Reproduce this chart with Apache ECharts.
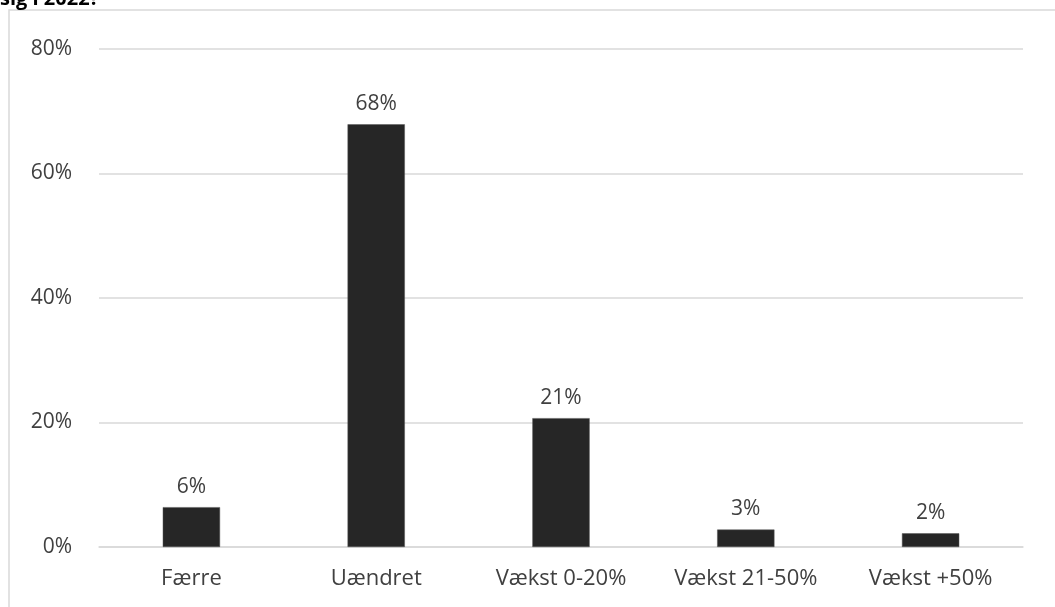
<!DOCTYPE html>
<html>
<head>
<meta charset="utf-8">
<script src="https://cdn.jsdelivr.net/npm/echarts@6/dist/echarts.min.js"></script>
<style>html,body{margin:0;padding:0;background:#fff;}#c{width:1055px;height:607px;}</style>
</head>
<body>
<div id="c"></div>
<script>
const categories = ['Færre', 'Uændret', 'Vækst 0-20%', 'Vækst 21-50%', 'Vækst +50%'];
const values = [6.4, 67.9, 20.7, 2.8, 2.2];
const valueLabels = ['6%', '68%', '21%', '3%', '2%'];
const titleText = 'sig i 2022?';

const FONT = '"Open Sans", "Noto Sans", sans-serif';
const chart = echarts.init(document.getElementById('c'));
chart.setOption({
  animation: false,
  backgroundColor: '#fff',
  graphic: [
    { type: 'rect', shape: { x: 9, y: 10, width: 1200, height: 800 }, style: { fill: 'none', stroke: '#d9d9d9', lineWidth: 1.5 }, z: -1 },
    { type: 'text', left: 0, top: -11, style: { text: titleText, font: 'bold 20px ' + FONT, fill: '#000' } }
  ],
  grid: { left: 99, right: 32, top: 49, bottom: 60, containLabel: false },
  xAxis: {
    type: 'category', data: categories,
    axisLine: { lineStyle: { color: '#d9d9d9', width: 1.5 } },
    axisTick: { show: false },
    axisLabel: { color: '#404040', fontSize: 22, fontFamily: FONT, margin: 21, interval: 0, hideOverlap: false }
  },
  yAxis: {
    type: 'value', min: 0, max: 80, interval: 20,
    axisLine: { show: false }, axisTick: { show: false },
    axisLabel: { color: '#404040', fontSize: 21, fontFamily: FONT, margin: 27, formatter: v => v + '%' },
    splitLine: { lineStyle: { color: '#d9d9d9', width: 1.5 } }
  },
  series: [{
    type: 'bar', data: values, barWidth: '31%',
    itemStyle: { color: '#262626', borderColor: '#555', borderWidth: 0.5 },
    label: { show: true, position: 'top', distance: 10, color: '#404040', fontSize: 21, fontFamily: FONT,
      formatter: p => valueLabels[p.dataIndex] }
  }]
});
</script>
</body>
</html>
